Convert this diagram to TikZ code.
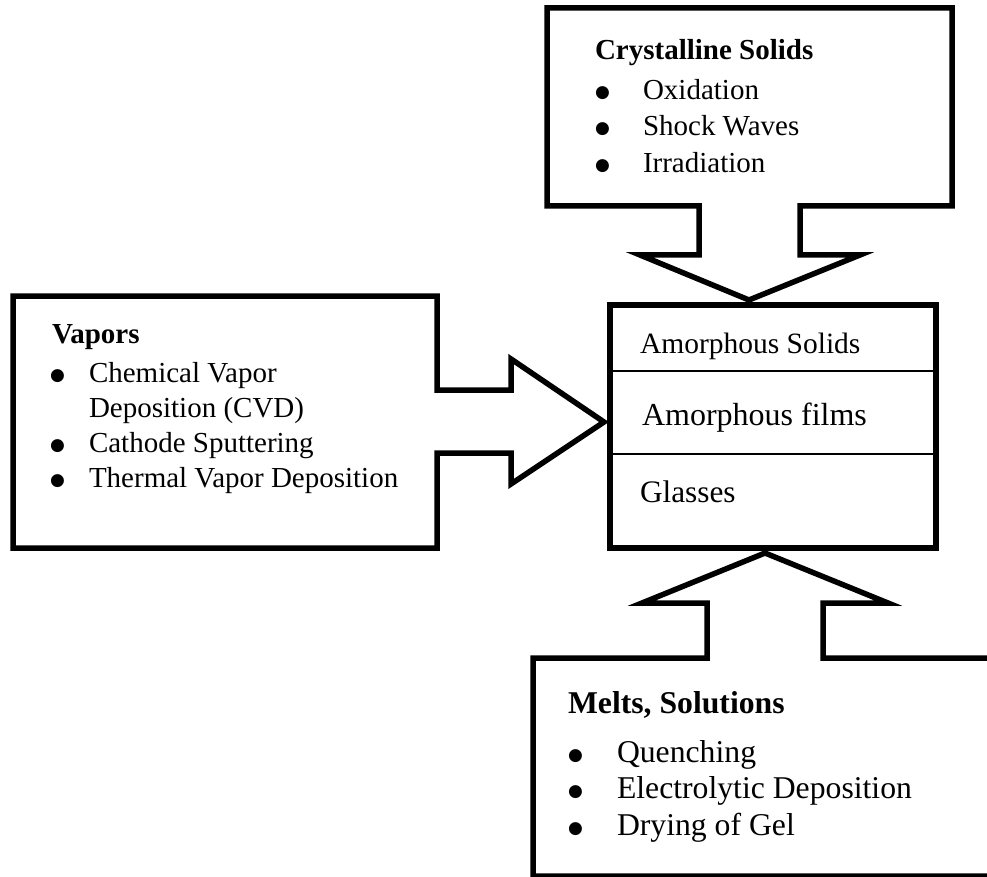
\documentclass[tikz,border=0pt]{standalone}
\usepackage{fontspec}
\setmainfont{Liberation Serif}
\newfontfamily\bulletfont{DejaVu Sans}
\newcommand{\bulgap}[1]{\makebox[0pt][r]{\raisebox{2pt}{\bulletfont\fontsize{17}{17}\selectfont ●}\hspace{#1}}}
\begin{document}
\begin{tikzpicture}[x=1pt,y=-1pt,
  outline/.style={draw=black, line width=5.5pt, line join=miter, miter limit=10, fill=white},
  divider/.style={draw=black, line width=2pt},
  lbl/.style={anchor=base west, inner sep=0pt, outer sep=0pt},
  fa/.style={font=\fontsize{29}{35}\selectfont},
  fab/.style={font=\fontsize{29}{35}\selectfont\bfseries},
  fb/.style={font=\fontsize{31.7}{37}\selectfont},
  fbb/.style={font=\fontsize{31.7}{37}\selectfont\bfseries}]
\useasboundingbox (0,0) rectangle (987,877);
\clip (0,0) rectangle (987,877);

% ---- Top callout: Crystalline Solids ----
\draw[outline] (547,8) -- (952,8) -- (952,206) -- (800,206) -- (800,255) -- (860,255)
  -- (749,300) -- (640,255) -- (699,255) -- (699,206) -- (547,206) -- cycle;
\node[lbl,fab] (cs) at (595,60) {Crystalline Solids};
\node[lbl,fa] (c1) at (643,100) {\bulgap{33pt}Oxidation};
\node[lbl,fa] (c2) at (643,136) {\bulgap{33pt}Shock Waves};
\node[lbl,fa] (c3) at (643,173) {\bulgap{33pt}Irradiation};

% ---- Left callout: Vapors ----
\draw[outline] (13,296) -- (437,296) -- (437,390) -- (511,390) -- (511,359) -- (604,422)
  -- (511,484) -- (511,453) -- (437,453) -- (437,548) -- (13,548) -- cycle;
\node[lbl,fab] (vp) at (52,343) {Vapors};
\node[lbl,fa] (v1) at (89,382) {\bulgap{24pt}Chemical Vapor};
\node[lbl,fa] (v1b) at (89,417) {Deposition (CVD)};
\node[lbl,fa] (v2) at (89,452) {\bulgap{24pt}Cathode Sputtering};
\node[lbl,fa] (v3) at (89,487) {\bulgap{24pt}Thermal Vapor Deposition};

% ---- Bottom callout: Melts, Solutions ----
\draw[outline] (533,658) -- (707,658) -- (707,603) -- (642,603) -- (765,553) -- (888,603)
  -- (823,603) -- (823,658) -- (1000,658) -- (1000,876) -- (533,876) -- cycle;
\node[lbl,fbb] (ms) at (568,713) {Melts, Solutions};
\node[lbl,fb] (m1) at (617,762) {\bulgap{34pt}Quenching};
\node[lbl,fb] (m2) at (617,798) {\bulgap{34pt}Electrolytic Deposition};
\node[lbl,fb] (m3) at (617,835) {\bulgap{34pt}Drying of Gel};

% ---- Central box ----
\draw[outline] (610,305) rectangle (936,548);
\draw[divider] (610,371) -- (936,371);
\draw[divider] (610,454) -- (936,454);
\node[lbl,font=\fontsize{29.5}{35}\selectfont] (as) at (640,353) {Amorphous Solids};
\node[lbl,font=\fontsize{32}{38}\selectfont] (af) at (642,425) {Amorphous films};
\node[lbl,font=\fontsize{31.3}{37}\selectfont] (gl) at (640,502) {Glasses};
\end{tikzpicture}
\end{document}
